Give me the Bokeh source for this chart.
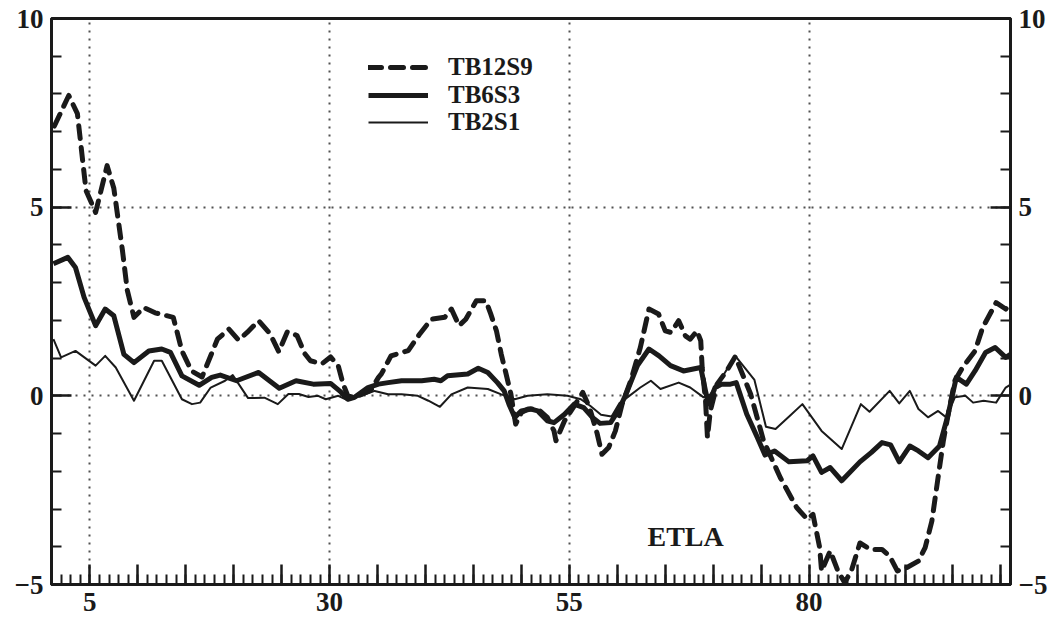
from bokeh.plotting import figure
from bokeh.models import Range1d, LinearAxis, FixedTicker, Legend, LegendItem, Label
from bokeh.embed import file_html
from bokeh.resources import INLINE

# ---- data ----
x_tb12s9 = [1.3, 2.8, 3.7, 4.6, 5.6, 6.8, 7.5, 8.4, 8.9, 9.6, 10.6, 11.8, 13.7, 14.6, 15.6,
            16.7, 18.3, 19.5, 20.5, 21.4, 22.6, 23.8, 24.7, 25.6, 26.6, 27.4, 28.0, 29.2,
            30.1, 30.9, 31.4, 31.9, 32.6, 33.0, 34.3, 35.1, 35.4, 36.4, 38.2, 39.4, 40.6,
            42.0, 42.7, 43.5, 44.2, 45.3, 46.3, 46.8, 47.4, 47.9, 48.4, 48.9, 49.4, 50.0,
            50.7, 51.7, 52.7, 53.4, 53.6, 54.5, 55.5, 56.4, 57.1, 57.9, 58.4, 59.1, 59.8,
            60.5, 61.4, 62.4, 63.3, 64.3, 65.0, 65.6, 66.4, 67.1, 67.6, 68.3, 68.7, 68.85,
            69.2, 69.4, 69.7, 70.4, 71.4, 72.3, 73.9, 75.25, 77.0, 78.7, 79.8, 80.4, 81.1,
            81.3, 82.2, 83.0, 83.7, 84.4, 85.3, 86.4, 87.6, 88.4, 89.2, 90.2, 91.4, 92.1,
            92.8, 93.4, 94.0, 94.5, 95.2, 96.0, 97.3, 98.1, 99.5, 100.5, 101.0]
y_tb12s9 = [7.15, 7.96, 7.48, 5.44, 4.86, 6.1, 5.5, 3.85, 2.8, 2.08, 2.34, 2.2, 2.08, 1.19, 0.66,
            0.5, 1.5, 1.77, 1.48, 1.68, 1.99, 1.64, 1.17, 1.7, 1.6, 1.12, 0.93, 0.85,
            1.03, 0.8, 0.32, 0.0, -0.05, 0.0, 0.15, 0.49, 0.58, 1.06, 1.2, 1.64, 2.03,
            2.08, 2.3, 1.86, 2.03, 2.52, 2.52, 2.17, 1.72, 1.1, 0.58, 0.05, -0.75, -0.44,
            -0.35, -0.35, -0.57, -0.93, -1.19, -0.66, -0.27, 0.09, -0.31, -1.0, -1.55, -1.37, -0.93,
            -0.22, 0.4, 1.28, 2.3, 2.17, 1.72, 1.68, 1.99, 1.59, 1.5, 1.72, 1.46, 0.75,
            -0.13, -1.1, -0.4, 0.31, 0.66, 1.04, 0.05, -1.19, -2.17, -2.96, -3.27, -3.14, -4.02,
            -4.64, -4.11, -4.64, -4.95, -4.64, -3.9, -4.07, -4.07, -4.25, -4.64, -4.55, -4.38, -4.02,
            -3.32, -2.25, -1.19, -0.49, 0.4, 0.75, 1.19, 1.81, 2.47, 2.3, 2.45]

x_tb6s3 = [1.2, 2.7, 3.5, 4.4, 5.6, 6.6, 7.5, 8.55, 9.6, 11.15, 12.5, 13.4, 14.6, 16.4, 17.7,
           18.6, 20.3, 22.6, 24.75, 26.5, 28.3, 30.1, 31.1, 31.9, 32.6, 34.0, 35.1, 36.1,
           37.5, 39.6, 40.9, 41.6, 42.3, 44.4, 45.5, 46.5, 47.5, 48.2, 48.7, 49.3, 50.0,
           51.0, 51.7, 52.7, 53.4, 54.5, 55.5, 56.5, 57.4, 58.2, 59.3, 60.2, 61.05, 62.1,
           63.3, 64.35, 65.55, 66.9, 68.7, 69.2, 69.5, 70.2, 70.9, 71.8, 72.4, 73.5, 74.6,
           75.4, 76.4, 77.9, 79.8, 80.4, 81.3, 82.2, 83.4, 85.3, 86.5, 87.6, 88.5, 89.4,
           90.5, 91.4, 92.4, 93.6, 94.5, 95.35, 96.4, 97.3, 98.4, 99.4, 100.5, 101.0]
y_tb6s3 = [3.5, 3.67, 3.4, 2.61, 1.86, 2.3, 2.12, 1.1, 0.88, 1.19, 1.24, 1.15, 0.53, 0.28, 0.49,
           0.55, 0.4, 0.62, 0.2, 0.4, 0.31, 0.33, 0.12, -0.09, -0.04, 0.22, 0.31, 0.35,
           0.4, 0.4, 0.44, 0.4, 0.53, 0.58, 0.73, 0.62, 0.35, 0.13, -0.22, -0.57, -0.4,
           -0.35, -0.4, -0.66, -0.71, -0.49, -0.22, -0.31, -0.57, -0.73, -0.71, -0.35, 0.13, 0.8,
           1.24, 1.06, 0.8, 0.66, 0.75, 0.13, -0.22, 0.22, 0.31, 0.31, 0.35, -0.49, -1.1,
           -1.57, -1.46, -1.75, -1.72, -1.59, -2.03, -1.9, -2.25, -1.75, -1.5, -1.24, -1.3, -1.75,
           -1.33, -1.46, -1.64, -1.33, -0.49, 0.49, 0.31, 0.66, 1.15, 1.28, 1.02, 1.1]

x_tb2s1 = [1.2, 2.0, 3.5, 5.6, 6.6, 7.7, 9.6, 11.7, 12.5, 14.6, 15.65, 16.5, 17.6, 19.1, 19.9,
           21.5, 23.2, 24.6, 25.7, 26.8, 27.8, 28.8, 29.6, 30.9, 31.9, 33.3, 34.7, 36.1,
           37.5, 39.2, 40.3, 41.5, 42.7, 44.4, 46.5, 47.9, 49.3, 50.65, 52.7, 54.8, 56.2,
           57.2, 58.3, 59.4, 60.2, 61.05, 62.4, 63.5, 64.5, 66.4, 67.6, 69.0, 69.7, 70.7,
           72.3, 74.3, 75.5, 76.5, 78.0, 79.3, 81.3, 83.4, 85.4, 86.3, 88.4, 89.4, 90.5,
           91.4, 92.4, 93.45, 94.3, 95.2, 96.3, 97.1, 98.2, 99.5, 100.5, 101.0]
y_tb2s1 = [1.5, 1.02, 1.19, 0.8, 1.06, 0.75, -0.13, 0.93, 0.93, -0.09, -0.22, -0.18, 0.22, 0.4, 0.55,
           -0.06, -0.05, -0.22, 0.05, 0.05, -0.03, 0.0, -0.09, 0.0, -0.12, 0.0, 0.13, 0.04,
           0.04, 0.0, -0.13, -0.29, 0.04, 0.22, 0.18, 0.04, -0.09, 0.0, 0.04, 0.0, -0.09,
           -0.27, -0.5, -0.55, -0.2, -0.04, 0.22, 0.4, 0.18, 0.35, 0.22, -0.04, 0.04, 0.4,
           1.06, 0.42, -0.82, -0.88, -0.53, -0.22, -0.93, -1.41, -0.22, -0.42, 0.13, -0.2, 0.13,
           -0.35, -0.57, -0.4, -0.57, -0.04, 0.0, -0.18, -0.13, -0.18, 0.22, 0.3]

series_names = ["TB12S9", "TB6S3", "TB2S1"]
x_major = list(range(5, 101, 5))
x_labels = [5, 30, 55, 80]
y_major = [-5, 0, 5, 10]
y_grid = [0, 5]
note_text = "ETLA"

FONT = "Liberation Serif"
INK = "#1a1a1a"

p = figure(width=1053, height=623, output_backend="svg", toolbar_location=None,
           x_range=Range1d(1, 101), y_range=Range1d(-5, 10),
           min_border_left=51, min_border_right=43, min_border_top=18, min_border_bottom=39)
p.background_fill_color = "white"
p.border_fill_color = "white"
p.outline_line_color = INK
p.outline_line_width = 3

# grids
p.xgrid.ticker = FixedTicker(ticks=x_labels)
p.ygrid.ticker = FixedTicker(ticks=y_grid)
for g in (p.xgrid[0], p.ygrid[0]):
    g.grid_line_color = "#333333"
    g.grid_line_dash = "2 6"
    g.grid_line_width = 2
    g.grid_line_alpha = 0.85

# axes
p.xaxis.ticker = FixedTicker(ticks=x_major, minor_ticks=list(range(1, 102)))
p.xaxis.major_label_overrides = {t: (str(t) if t in x_labels else "") for t in x_major}

def y_ticker():
    return FixedTicker(ticks=y_major, minor_ticks=list(range(-5, 11)))

y_over = {t: (("\u2212" + str(-t)) if t < 0 else str(t)) for t in y_major}
p.yaxis.ticker = y_ticker()
p.yaxis.major_label_overrides = y_over
yr = LinearAxis(ticker=y_ticker(), major_label_overrides=y_over)
p.add_layout(yr, "right")

for ax in (p.xaxis[0], p.yaxis[0], yr):
    ax.axis_line_width = 3
    ax.axis_line_color = INK
    ax.major_tick_in = 20
    ax.major_tick_out = 0
    ax.minor_tick_in = 10
    ax.minor_tick_out = 0
    ax.major_tick_line_width = 2.5
    ax.minor_tick_line_width = 2
    ax.major_tick_line_color = INK
    ax.minor_tick_line_color = INK
    ax.major_label_text_font = FONT
    ax.major_label_text_font_style = "bold"
    ax.major_label_text_font_size = "27px"
    ax.major_label_text_color = INK
    ax.major_label_standoff = 8

# lines
r1 = p.line(x_tb12s9, y_tb12s9, line_color=INK, line_width=5, line_dash="13 9",
            line_cap="round", line_join="round")
r2 = p.line(x_tb6s3, y_tb6s3, line_color=INK, line_width=5, line_join="round")
r3 = p.line(x_tb2s1, y_tb2s1, line_color=INK, line_width=2, line_join="round")

# one legend per entry, so that the rows sit as tightly as in the reference
for name, rend, vy in zip(series_names, (r1, r2, r3), (503, 475, 448)):
    lg = Legend(items=[LegendItem(label=name, renderers=[rend])], location=(317, vy))
    lg.glyph_width = 60
    lg.glyph_height = 24
    lg.label_height = 24
    lg.label_standoff = 20
    lg.padding = 0
    lg.margin = 0
    lg.border_line_alpha = 0
    lg.background_fill_alpha = 0
    lg.label_text_font = FONT
    lg.label_text_font_style = "bold"
    lg.label_text_font_size = "25px"
    lg.label_text_line_height = 1.0
    lg.label_text_color = INK
    p.add_layout(lg)

p.add_layout(Label(x=63.15, y=-3.74, text=note_text, text_font=FONT, text_font_style="bold",
                   text_font_size="28px", text_color=INK, text_baseline="middle",
                   text_align="left"))

open("out.html", "w").write(file_html(p, INLINE))
